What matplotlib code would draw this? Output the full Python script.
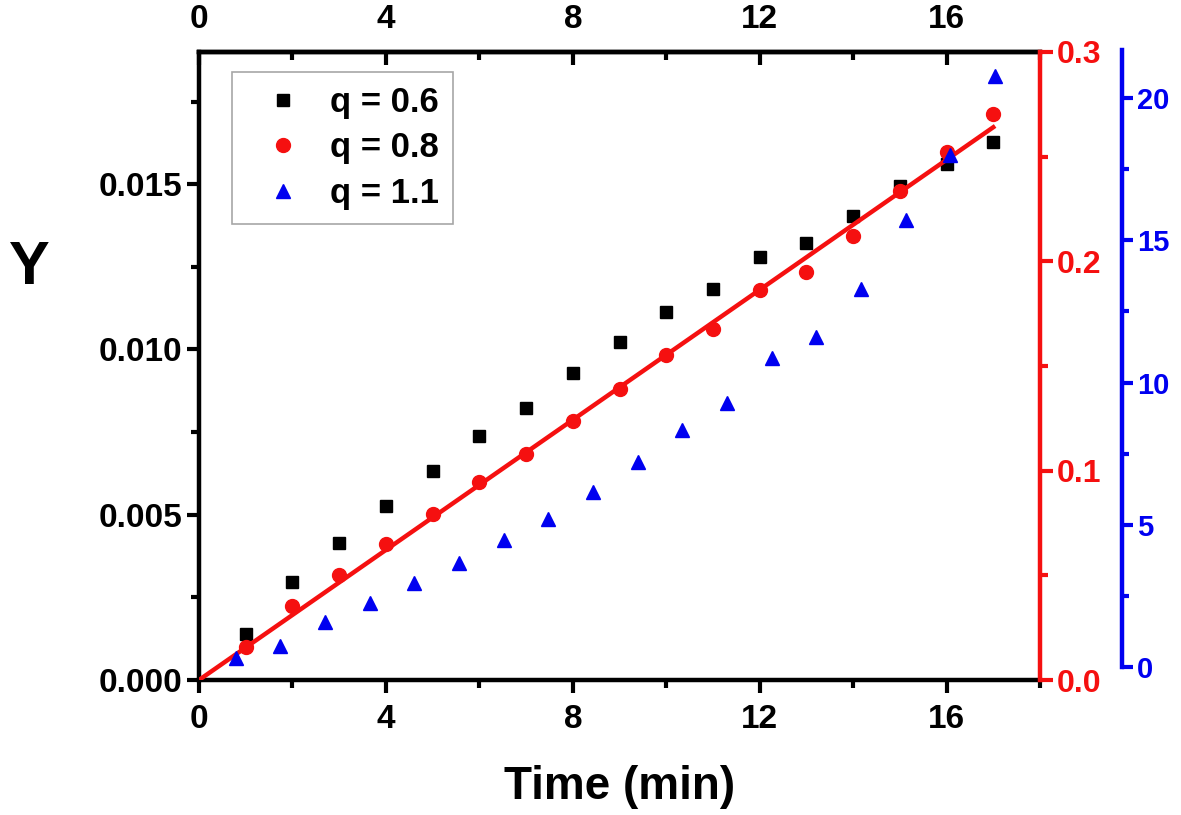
import numpy as np
import matplotlib
matplotlib.use("Agg")
import matplotlib.pyplot as plt
from matplotlib.ticker import MultipleLocator, FormatStrFormatter
from matplotlib.lines import Line2D

plt.rcParams['font.family'] = ['Liberation Sans', 'DejaVu Sans']
plt.rcParams['font.weight'] = 'bold'

# ---- data ----
time_a = [1, 2, 3, 4, 5, 6, 7, 8, 9, 10, 11, 12, 13, 14, 15, 16, 17]
y_q06 = [0.00138, 0.00298, 0.00414, 0.00525, 0.00631, 0.00737, 0.00823, 0.00929,
         0.01023, 0.01114, 0.01184, 0.01281, 0.01321, 0.01404, 0.01495, 0.01561, 0.01628]
y_q08 = [0.0159, 0.0354, 0.0503, 0.0648, 0.0794, 0.0948, 0.1080, 0.1237,
         0.1392, 0.1552, 0.1675, 0.1862, 0.1948, 0.2119, 0.2337, 0.2524, 0.2702]
time_b = [1, 2, 3, 4, 5, 6, 7, 8, 9, 10, 11, 12, 13, 14, 15, 16, 17, 18]
y_q11 = [0.31, 0.74, 1.59, 2.26, 2.94, 3.66, 4.48, 5.19, 6.16, 7.20, 8.34, 9.27,
         10.85, 11.61, 13.29, 15.71, 18.0, 20.77]
labels = ['q = 0.6', 'q = 0.8', 'q = 1.1']

BLACK = '#000000'
RED = '#f51010'
BLUE = '#0000f0'

W, H = 1181, 815
fig = plt.figure(figsize=(W / 100, H / 100), dpi=100)

def rect(l, r, t, b):
    return [l / W, 1 - b / H, (r - l) / W, (b - t) / H]

ax = fig.add_axes(rect(199, 1040, 52, 680))
ax.set_xlim(0, 18)
ax.set_ylim(0, 0.019)

lw_sp = 3.2
for s in ['left', 'bottom', 'top']:
    ax.spines[s].set_linewidth(lw_sp)
ax.spines['right'].set_visible(False)

ax.xaxis.set_major_locator(MultipleLocator(4))
ax.xaxis.set_minor_locator(MultipleLocator(2))
ax.yaxis.set_major_locator(MultipleLocator(0.005))
ax.yaxis.set_minor_locator(MultipleLocator(0.0025))
ax.yaxis.set_major_formatter(FormatStrFormatter('%.3f'))
ax.tick_params(axis='x', which='both', bottom=True, top=False, labelbottom=True,
               labeltop=False, direction='out', labelsize=24, width=3, pad=8)
ax.tick_params(axis='x', which='major', length=9)
ax.tick_params(axis='x', which='minor', length=6)
ax.tick_params(axis='y', which='major', length=9, width=3, labelsize=24, direction='out', pad=3)
ax.tick_params(axis='y', which='minor', length=6, width=3, direction='out')

secx = ax.secondary_xaxis('top')
secx.xaxis.set_major_locator(MultipleLocator(4))
secx.xaxis.set_minor_locator(MultipleLocator(2))
secx.tick_params(axis='x', which='major', direction='in', length=9, width=3, labelsize=24, pad=12)
secx.tick_params(axis='x', which='minor', direction='in', length=6, width=3)
secx.spines['top'].set_linewidth(lw_sp)

ax.set_xlabel('Time (min)', fontsize=33, fontweight='bold', labelpad=22)

ax.plot(time_a, y_q06, linestyle='none', marker='s', ms=9, color=BLACK, label=labels[0])

# red axis
axr = ax.twinx()
axr.set_ylim(0, 0.3)
for s in ['left', 'bottom', 'top']:
    axr.spines[s].set_visible(False)
axr.spines['right'].set_color(RED)
axr.spines['right'].set_linewidth(lw_sp)
axr.yaxis.set_major_locator(MultipleLocator(0.1))
axr.yaxis.set_minor_locator(MultipleLocator(0.05))
axr.yaxis.set_major_formatter(FormatStrFormatter('%.1f'))
axr.tick_params(axis='y', which='major', length=9, width=3, colors=RED, labelsize=23, pad=3)
axr.tick_params(axis='y', which='minor', length=6, width=3, colors=RED)
axr.plot(time_a, y_q08, linestyle='none', marker='o', ms=10, color=RED, label=labels[1])
ta = np.array(time_a, float)
slope = np.sum(ta * np.array(y_q08)) / np.sum(ta * ta)
xfit = np.array([0, time_a[-1]])
axr.plot(xfit, slope * xfit, color=RED, lw=3.2)

# blue axis
axb = fig.add_axes(rect(191, 1122, 50, 667))
axb.set_xlim(0, 931 / 44.67)
axb.set_ylim(0, 617 / 28.45)
axb.patch.set_visible(False)
for s in ['left', 'bottom', 'top']:
    axb.spines[s].set_visible(False)
axb.spines['right'].set_color(BLUE)
axb.spines['right'].set_linewidth(lw_sp)
axb.xaxis.set_visible(False)
axb.yaxis.tick_right()
axb.yaxis.set_major_locator(MultipleLocator(5))
axb.yaxis.set_minor_locator(MultipleLocator(2.5))
axb.tick_params(axis='y', which='major', length=8, width=3, colors=BLUE, labelsize=21, pad=3)
axb.tick_params(axis='y', which='minor', length=5, width=3, colors=BLUE)
axb.plot(time_b, y_q11, linestyle='none', marker='^', ms=10.5, color=BLUE, label=labels[2])

for a in (ax, axr, axb):
    for lab in a.get_yticklabels() + a.get_xticklabels():
        lab.set_fontweight('bold')
for lab in secx.get_xticklabels():
    lab.set_fontweight('bold')

handles = [Line2D([], [], linestyle='none', marker='s', ms=9, color=BLACK),
           Line2D([], [], linestyle='none', marker='o', ms=10, color=RED),
           Line2D([], [], linestyle='none', marker='^', ms=10.5, color=BLUE)]
leg = axb.legend(handles, labels, loc='upper left', bbox_to_anchor=(232 / W, 1 - 72 / H),
                 bbox_transform=fig.transFigure, frameon=True, fancybox=False,
                 prop={'family': 'Liberation Sans', 'weight': 'bold', 'size': 25},
                 borderaxespad=0, borderpad=0.4, labelspacing=0.36, handletextpad=0.3,
                 handlelength=2.13)
leg.get_frame().set_edgecolor('#909090')
leg.get_frame().set_linewidth(1.2)

fig.text(29 / W, 1 - 268 / H, 'Y', fontsize=44, fontweight='bold', ha='center', va='center')

fig.savefig('out.png', dpi=100)
